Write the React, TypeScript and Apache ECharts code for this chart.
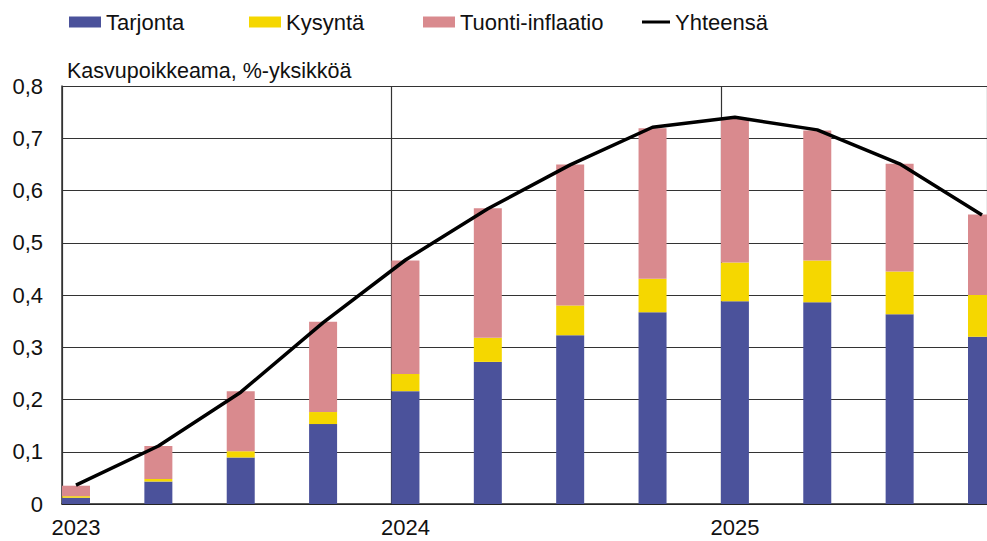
import React, { useEffect, useRef } from "react";
import * as echarts from "echarts";

const quarters = [
  "2023Q1", "2023Q2", "2023Q3", "2023Q4",
  "2024Q1", "2024Q2", "2024Q3", "2024Q4",
  "2025Q1", "2025Q2", "2025Q3", "2025Q4",
];
const tarjonta = [0.012, 0.043, 0.089, 0.153, 0.216, 0.272, 0.323, 0.367, 0.388, 0.386, 0.363, 0.32];
const kysynta = [0.003, 0.005, 0.012, 0.023, 0.033, 0.046, 0.057, 0.064, 0.074, 0.08, 0.082, 0.08];
const tuonti = [0.02, 0.063, 0.115, 0.173, 0.217, 0.248, 0.27, 0.288, 0.275, 0.249, 0.206, 0.154];
const yhteensa = [0.036, 0.111, 0.214, 0.347, 0.467, 0.565, 0.649, 0.721, 0.74, 0.716, 0.651, 0.553];
const yearLabels = [2023, 2024, 2025];
const seriesNames = ["Tarjonta", "Kysyntä", "Tuonti-inflaatio", "Yhteensä"];

const FONT = "'Liberation Sans', Arial, sans-serif";
const BAR_OFFSET = 0.0425; // label offset from start of year (in years)
const X_MIN = 2023;
const X_MAX = 2025.807;

export default function App() {
  const ref = useRef<HTMLDivElement>(null);
  useEffect(() => {
    if (!ref.current) return;
    const chart = echarts.init(ref.current, null, { renderer: "svg" });
    const legendBase = {
      orient: "horizontal",
      top: 11,
      padding: 0,
      itemWidth: 32,
      itemHeight: 11,
      textStyle: { fontFamily: FONT, fontSize: 22, color: "#111" },
    };
    const barBase = {
      type: "bar",
      stack: "total",
      barWidth: 28,
      clip: false,
      xAxisIndex: 1,
      yAxisIndex: 1,
    };
    chart.setOption({
      animation: false,
      textStyle: { fontFamily: FONT },
      legend: [
        { ...legendBase, left: 69, data: [{ name: seriesNames[0], icon: "rect" }] },
        { ...legendBase, left: 249, data: [{ name: seriesNames[1], icon: "rect" }] },
        { ...legendBase, left: 423, data: [{ name: seriesNames[2], icon: "rect" }] },
        { ...legendBase, left: 642, itemWidth: 28, itemHeight: 3, data: [{ name: seriesNames[3], icon: "rect" }] },
      ],
      grid: [
        { left: 62, right: 0, top: 86, bottom: 37, containLabel: false },
        { left: 76, right: 5, top: 86, bottom: 37, containLabel: false },
      ],
      xAxis: [
        {
          type: "value",
          gridIndex: 0,
          min: X_MIN,
          max: X_MAX,
          interval: 1,
          axisLine: { show: true, lineStyle: { color: "#222", width: 1.5 } },
          axisTick: { show: false },
          splitLine: { show: true, lineStyle: { color: "#333", width: 1.2 } },
          axisLabel: {
            customValues: yearLabels.map((y) => y + BAR_OFFSET),
            formatter: (v: number) => String(Math.floor(v)),
            fontFamily: FONT,
            fontSize: 22,
            color: "#111",
            margin: 12,
          },
        },
        {
          type: "category",
          gridIndex: 1,
          data: quarters,
          boundaryGap: false,
          show: false,
        },
      ],
      yAxis: [
        {
          type: "value",
          gridIndex: 0,
          min: 0,
          max: 0.8,
          interval: 0.1,
          name: "Kasvupoikkeama, %-yksikköä",
          nameLocation: "end",
          nameGap: 15,
          nameTextStyle: {
            fontFamily: FONT,
            fontSize: 21.5,
            color: "#111",
            align: "left",
            verticalAlign: "middle",
            padding: [0, 0, 0, 5],
          },
          axisLine: { show: true, lineStyle: { color: "#333", width: 1.5 } },
          axisTick: { show: false },
          splitLine: { show: true, lineStyle: { color: "#333", width: 1.2 } },
          axisLabel: {
            formatter: (v: number) => (v === 0 ? "0" : v.toFixed(1).replace(".", ",")),
            fontFamily: FONT,
            fontSize: 22,
            color: "#111",
            margin: 19,
          },
        },
        {
          type: "value",
          gridIndex: 1,
          min: 0,
          max: 0.8,
          interval: 0.1,
          show: false,
          splitLine: { show: false },
        },
      ],
      series: [
        { ...barBase, name: seriesNames[0], itemStyle: { color: "#4b529b" }, data: tarjonta },
        { ...barBase, name: seriesNames[1], itemStyle: { color: "#f5d700" }, data: kysynta },
        { ...barBase, name: seriesNames[2], itemStyle: { color: "#d98a8e" }, data: tuonti },
        {
          name: seriesNames[3],
          type: "line",
          xAxisIndex: 1,
          yAxisIndex: 1,
          showSymbol: false,
          symbol: "none",
          z: 5,
          itemStyle: { color: "#000" },
          lineStyle: { color: "#000", width: 3.5 },
          data: yhteensa,
        },
      ],
    });
    return () => chart.dispose();
  }, []);
  return (
    <div
      ref={ref}
      style={{ position: "fixed", left: 0, top: 0, width: 987, height: 541, background: "#fff" }}
    />
  );
}
